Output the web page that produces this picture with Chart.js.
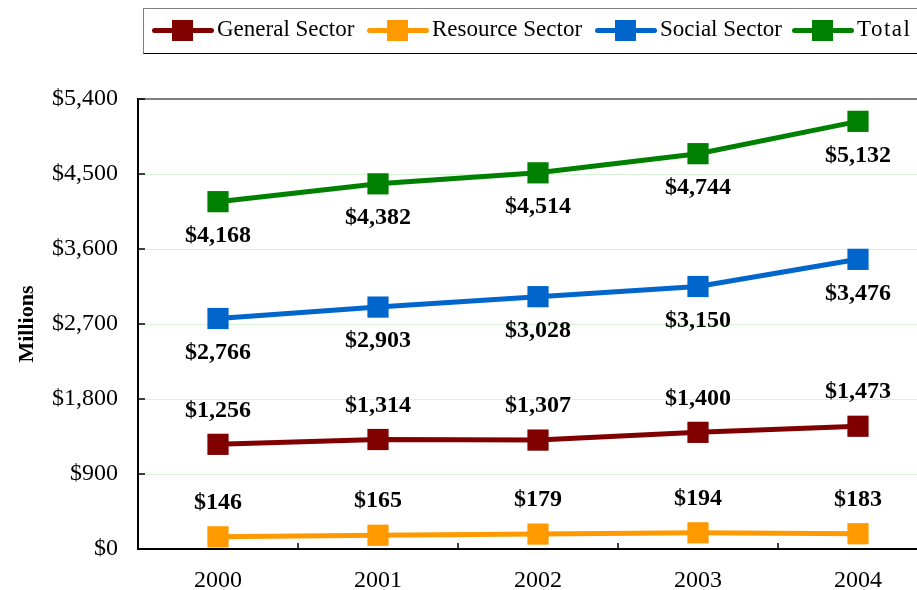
<!DOCTYPE html>
<html>
<head>
<meta charset="utf-8">
<script src="https://cdn.jsdelivr.net/npm/chart.js@4"></script>
<style>
    html, body { margin: 0; padding: 0; background: #fff; overflow: hidden; }
    #wrap { position: relative; width: 940px; height: 590px; }
    #legend {
        position: absolute; left: 143px; top: 8px; width: 790px; height: 46px;
        border: 1px solid #000; border-top-color: #808080; border-left-color: #808080;
        box-sizing: border-box; font-family: "Liberation Serif", serif; font-size: 23px; color: #000;
    }
    .item { position: absolute; top: 0; height: 44px; }
    .mark { position: absolute; top: 19px; width: 62px; height: 5px; border-radius: 3px; }
    .mark i { position: absolute; left: 20px; top: -8px; width: 21px; height: 21px; }
    .txt { position: absolute; left: 65px; top: 7px; white-space: nowrap; }
</style>
</head>
<body>
<div id="wrap">
    <canvas id="lineChart" width="940" height="590"></canvas>
    <div id="legend"></div>
</div>
<script>
// 데이터
const years = ['2000', '2001', '2002', '2003', '2004'];
const generalSector = [1256, 1314, 1307, 1400, 1473];
const resourceSector = [146, 165, 179, 194, 183];
const socialSector = [2766, 2903, 3028, 3150, 3476];
const totalValues = [4168, 4382, 4514, 4744, 5132];

const seriesNames = ['General Sector', 'Resource Sector', 'Social Sector', 'Total'];
const seriesColors = ['#800000', '#FF9900', '#0066CC', '#008000'];
const labelBelow = [false, false, true, true];   // 라벨 위치 (점 아래/위)
const legendX = [8, 223, 451, 648];             // 범례 항목 x (박스 기준)

const money = v => '$' + Number(v).toLocaleString('en-US');

// 값 라벨 + 안쪽 눈금 + 위쪽 테두리
const extrasPlugin = {
    id: 'extras',
    afterDraw(chart) {
        const ctx = chart.ctx;
        const area = chart.chartArea;
        const xs = chart.scales.x;
        const ys = chart.scales.y;
        ctx.save();

        // 위 테두리 (회색)
        ctx.strokeStyle = '#808080';
        ctx.lineWidth = 2;
        ctx.beginPath();
        ctx.moveTo(area.left, area.top);
        ctx.lineTo(area.right, area.top);
        ctx.stroke();

        // y축 안쪽 눈금
        ctx.strokeStyle = '#000';
        ctx.lineWidth = 1.5;
        ys.ticks.forEach(t => {
            const y = ys.getPixelForValue(t.value);
            ctx.beginPath();
            ctx.moveTo(area.left, y);
            ctx.lineTo(area.left + 7, y);
            ctx.stroke();
        });
        // x축 카테고리 경계 눈금
        for (let i = 1; i < years.length; i++) {
            const x = (xs.getPixelForValue(i - 1) + xs.getPixelForValue(i)) / 2;
            ctx.beginPath();
            ctx.moveTo(x, area.bottom);
            ctx.lineTo(x, area.bottom - 6);
            ctx.stroke();
        }

        // 값 라벨
        ctx.fillStyle = '#000';
        ctx.font = 'bold 24px "Liberation Serif", serif';
        ctx.textAlign = 'center';
        ctx.textBaseline = 'middle';
        chart.data.datasets.forEach((ds, di) => {
            const meta = chart.getDatasetMeta(di);
            meta.data.forEach((pt, i) => {
                const dy = labelBelow[di] ? 34 : -34;
                ctx.fillText(money(ds.data[i]), pt.x, pt.y + dy);
            });
        });
        ctx.restore();
    }
};

const allSeries = [generalSector, resourceSector, socialSector, totalValues];

new Chart(document.getElementById('lineChart'), {
    type: 'line',
    data: {
        labels: years,
        datasets: allSeries.map((arr, i) => ({
            label: seriesNames[i],
            data: arr,
            borderColor: seriesColors[i],
            backgroundColor: seriesColors[i],
            borderWidth: 5,
            pointStyle: 'rect',
            pointRadius: 15,
            pointHoverRadius: 15,
            pointBorderWidth: 0,
            tension: 0
        }))
    },
    options: {
        responsive: false,
        animation: false,
        layout: { autoPadding: false, padding: { top: 99, right: 2, bottom: 0, left: 0 } },
        plugins: {
            legend: { display: false },
            tooltip: { enabled: false }
        },
        scales: {
            x: {
                offset: true,
                grid: { display: false, drawTicks: false },
                border: { color: '#000', width: 2 },
                ticks: {
                    color: '#000',
                    padding: 17,
                    font: { family: '"Liberation Serif", serif', size: 24 }
                },
                afterFit: s => { s.height = 41; }
            },
            y: {
                min: 0,
                max: 5400,
                grid: { color: '#d6f5d6', lineWidth: 1, drawTicks: false },
                border: { color: '#000', width: 2 },
                ticks: {
                    stepSize: 900,
                    color: '#000',
                    padding: 20,
                    font: { family: '"Liberation Serif", serif', size: 24 },
                    callback: v => money(v)
                },
                title: {
                    display: true,
                    text: 'Millions',
                    color: '#000',
                    padding: { top: 14, bottom: 0 },
                    font: { family: '"Liberation Serif", serif', size: 22, weight: 'bold' }
                },
                afterFit: s => { s.width = 138; }
            }
        }
    },
    plugins: [extrasPlugin]
});

// 범례 (선 + 사각형 마커)
const legendBox = document.getElementById('legend');
seriesNames.forEach((name, i) => {
    const item = document.createElement('div');
    item.className = 'item';
    item.style.left = legendX[i] + 'px';
    item.innerHTML = `
        <span class="mark" style="background:${seriesColors[i]}"><i style="background:${seriesColors[i]}"></i></span>
        <span class="txt"${name === 'Total' ? ' style="letter-spacing:1.5px"' : ''}>${name}</span>
    `;
    legendBox.appendChild(item);
});
</script>
</body>
</html>
